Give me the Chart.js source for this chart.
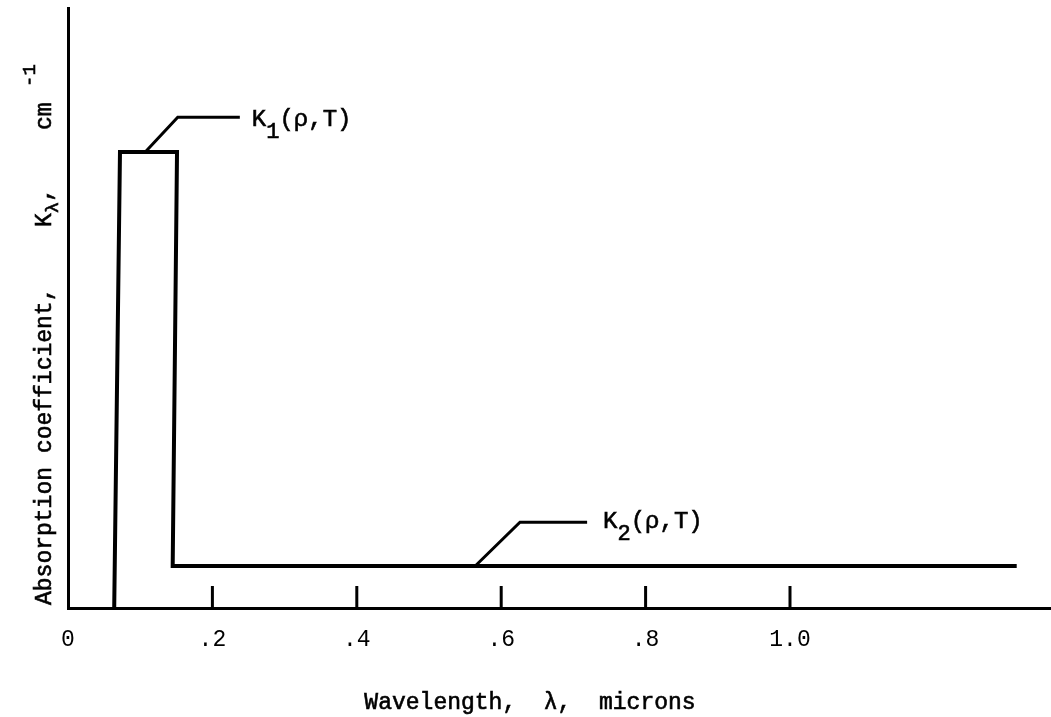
<!DOCTYPE html>
<html>
<head>
<meta charset="utf-8">
<title>Absorption coefficient vs wavelength</title>
<script src="https://cdn.jsdelivr.net/npm/chart.js@4.4.1/dist/chart.umd.min.js"></script>
<style>
  html, body { margin: 0; padding: 0; background: #fff; }
  #wrap { width: 1051px; height: 717px; }
</style>
</head>
<body>
<div id="wrap"><canvas id="myChart"></canvas></div>
<script>
// two-level step model of K_lambda (arbitrary units on a 0..10 axis)
var stepLambda = [0.064, 0.072, 0.151, 0.145, 1.314];
var stepK = [0, 7.6, 7.6, 0.7, 0.7];

// leader lines pointing at the two levels
var k1Lambda = [0.107, 0.152, 0.238];
var k1K = [7.6, 8.18, 8.18];
var k2Lambda = [0.564, 0.626, 0.719];
var k2K = [0.7, 1.43, 1.43];

var tickValues = [0, 0.2, 0.4, 0.6, 0.8, 1.0];
var tickLabels = ['0', '.2', '.4', '.6', '.8', '1.0'];
var markValues = [0.2, 0.4, 0.6, 0.8, 1.0];

var lambdaMax = 1.3615;
var kMax = 10;

var FONT = "'Liberation Mono', 'Courier New', monospace";

function pts(xs, ys) {
    return xs.map(function (x, i) { return { x: x, y: ys[i] }; });
}

// draws a run of text pieces; a piece may sit at a fixed offset ("at")
function drawParts(ctx, parts, x, y) {
    parts.forEach(function (p) {
        if (p.at !== undefined) x = p.at;
        ctx.font = p.size + 'px ' + FONT;
        ctx.fillText(p.text, x, y + (p.shift || 0));
        ctx.lineWidth = 0.6;
        ctx.strokeText(p.text, x, y + (p.shift || 0));
        x += ctx.measureText(p.text).width;
    });
}

// small tick marks standing on the wavelength axis
var axisMarks = {
    id: 'axisMarks',
    afterDatasetsDraw: function (chart) {
        var ctx = chart.ctx;
        var xs = chart.scales.x;
        var bottom = chart.chartArea.bottom;
        ctx.save();
        ctx.strokeStyle = '#000';
        ctx.lineWidth = 3;
        markValues.forEach(function (v) {
            var px = xs.getPixelForValue(v);
            ctx.beginPath();
            ctx.moveTo(px, bottom - 22);
            ctx.lineTo(px, bottom);
            ctx.stroke();
        });
        ctx.restore();
    }
};

// K1 / K2 labels, the y title with sub/superscripts and the x title
var textLayer = {
    id: 'textLayer',
    afterDraw: function (chart) {
        var ctx = chart.ctx;
        var xs = chart.scales.x;
        var ys = chart.scales.y;
        ctx.save();
        ctx.fillStyle = '#000';
        ctx.strokeStyle = '#000';
        ctx.textBaseline = 'middle';
        ctx.textAlign = 'left';

        var n = k1Lambda.length - 1;
        drawParts(ctx, [
            { text: 'K', size: 24 },
            { text: '1', size: 22, shift: 13 },
            { text: '(ρ,T)', size: 24 }
        ], xs.getPixelForValue(k1Lambda[n]) + 12, ys.getPixelForValue(k1K[n]) + 2);

        n = k2Lambda.length - 1;
        drawParts(ctx, [
            { text: 'K', size: 24 },
            { text: '2', size: 22, shift: 13 },
            { text: '(ρ,T)', size: 24 }
        ], xs.getPixelForValue(k2Lambda[n]) + 16, ys.getPixelForValue(k2K[n]) - 1);

        ctx.textAlign = 'center';
        drawParts(ctx, [{ text: 'Wavelength,  λ,  microns', size: 23 }], 530, 703);

        // rotated y title, reading upward from the bottom of the axis
        ctx.translate(51, 605);
        ctx.rotate(-Math.PI / 2);
        ctx.textAlign = 'left';
        ctx.textBaseline = 'alphabetic';
        drawParts(ctx, [
            { text: 'Absorption coefficient,', size: 23 },
            { text: 'K', size: 23, at: 378 },
            { text: 'λ', size: 19, shift: 7 },
            { text: ',', size: 23 },
            { text: 'cm', size: 23, at: 475 },
            { text: '-1', size: 19, shift: -16, at: 518 }
        ], 0, 0);
        ctx.restore();
    }
};

var ctx = document.getElementById('myChart').getContext('2d');
var myChart = new Chart(ctx, {
    type: 'scatter',
    data: {
        datasets: [{
            label: 'K',
            data: pts(stepLambda, stepK),
            showLine: true,
            borderColor: '#000',
            borderWidth: 4,
            borderJoinStyle: 'miter',
            pointRadius: 0
        }, {
            label: 'K1 leader',
            data: pts(k1Lambda, k1K),
            showLine: true,
            borderColor: '#000',
            borderWidth: 3,
            pointRadius: 0
        }, {
            label: 'K2 leader',
            data: pts(k2Lambda, k2K),
            showLine: true,
            borderColor: '#000',
            borderWidth: 3,
            pointRadius: 0
        }]
    },
    options: {
        responsive: true,
        maintainAspectRatio: false,
        animation: false,
        layout: {
            padding: { left: 68, right: 0, top: 8, bottom: 69 }
        },
        plugins: {
            legend: { display: false },
            tooltip: { enabled: false }
        },
        scales: {
            x: {
                type: 'linear',
                min: 0,
                max: lambdaMax,
                afterBuildTicks: function (scale) {
                    scale.ticks = tickValues.map(function (v) { return { value: v }; });
                },
                afterFit: function (scale) { scale.height = 40; },
                grid: { display: false, drawTicks: false },
                border: { display: true, color: '#000', width: 3 },
                ticks: {
                    autoSkip: false,
                    maxRotation: 0,
                    padding: 18,
                    color: '#000',
                    font: { family: FONT, size: 23 },
                    callback: function (value) {
                        var i = tickValues.indexOf(value);
                        return i >= 0 ? tickLabels[i] : '';
                    }
                }
            },
            y: {
                min: 0,
                max: kMax,
                afterFit: function (scale) { scale.width = 0; },
                grid: { display: false, drawTicks: false },
                border: { display: true, color: '#000', width: 3 },
                ticks: { display: false }
            }
        }
    },
    plugins: [axisMarks, textLayer]
});
</script>
</body>
</html>
